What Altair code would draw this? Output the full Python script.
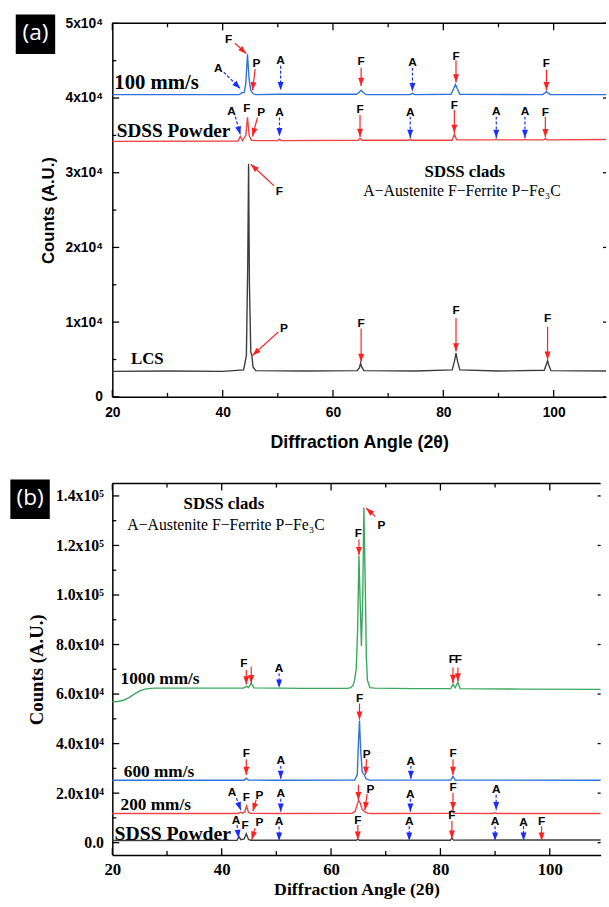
import math
import altair as alt
import pandas as pd

# ---------------- Panel (a) data ----------------
A_XDOM = [20, 109.5]
A_YDOM = [0, 50000]

a_lcs_x = [20, 30, 40, 43.8, 44.3, 44.55, 44.7, 44.85, 45.1, 45.3, 45.5, 46, 55, 64.4, 64.8, 65.0, 65.2, 65.6, 75,
           81.6, 82.0, 82.3, 82.6, 83.0, 90, 98.3, 98.7, 98.9, 99.1, 99.5, 109.5]
a_lcs_y = [3400, 3450, 3400, 3600, 5500, 18000, 31200, 15000, 6000, 5500, 4000, 3500, 3450, 3500, 3900, 4500, 4000,
           3500, 3450, 3600, 4700, 5850, 4700, 3600, 3450, 3550, 4400, 4850, 4300, 3500, 3450]

a_100_x = [20, 43.0, 43.5, 43.9, 44.2, 44.5, 44.8, 45.1, 45.5, 46, 50.5, 64.3, 64.8, 65.1, 65.4, 66.0, 74.0, 74.4,
           74.8, 81.4, 81.9, 82.2, 82.5, 83.0, 98.0, 98.5, 98.7, 98.9, 99.4, 109.5]
a_100_y = [40450, 40450, 40750, 40700, 42000, 45870, 42500, 41000, 40600, 40450, 40500, 40500, 40800, 41030, 40800,
           40450, 40450, 40630, 40450, 40500, 41300, 41820, 41300, 40500, 40450, 40700, 40900, 40700, 40450, 40450]

a_pow_x = [20, 42.8, 43.2, 43.6, 44.2, 44.5, 44.8, 45.2, 46, 50.0, 50.3, 50.6, 64.6, 64.9, 65.2, 73.7, 74.0, 74.3,
           81.6, 82.0, 82.4, 89.3, 89.6, 89.9, 94.5, 94.8, 95.1, 98.2, 98.5, 98.8, 109.5]
a_pow_y = [34200, 34250, 34870, 34300, 35000, 37430, 35000, 34350, 34300, 34300, 34500, 34300, 34350, 34600, 34350,
           34350, 34500, 34350, 34350, 35180, 34400, 34400, 34500, 34400, 34400, 34480, 34400, 34400, 34600, 34400,
           34450]

a_lab_txt = ["A", "F", "P", "A", "F", "A", "F", "F",
             "A", "F", "P", "A", "F", "A", "F", "A", "A", "F",
             "F", "P", "F", "F", "F"]
a_lab_x = [39.2, 41.1, 46.1, 50.5, 65.1, 74.4, 82.3, 98.7,
           41.6, 44.4, 47.0, 50.3, 64.9, 74.0, 82.0, 89.6, 94.8, 98.5,
           50.3, 51.1, 65.1, 82.3, 98.9]
a_lab_y = [43970, 47850, 44690, 45120, 44900, 44760, 45650, 44690,
           38260, 38620, 38090, 38090, 38490, 38170, 39050, 38260, 38260, 38170,
           27610, 9270, 9930, 11650, 10550]

a_red_x1 = [42.2, 45.9, 65.1, 82.3, 98.7, 46.3, 64.9, 82.0, 98.5, 49.3, 50.1, 65.1, 82.3, 98.9]
a_red_y1 = [47340, 43870, 44060, 45070, 43800, 37400, 37730, 38390, 37510, 28270, 8700, 9140, 10550, 9370]
a_red_x2 = [44.3, 45.4, 65.1, 82.3, 98.7, 45.4, 64.9, 82.0, 98.5, 45.1, 45.4, 65.1, 82.3, 98.9]
a_red_y2 = [45940, 41030, 41620, 42090, 41030, 34870, 34790, 35320, 34740, 31130, 5540, 4660, 6070, 4970]

a_blue_x1 = [40.2, 50.5, 74.4, 42.3, 50.3, 74.0, 89.6, 94.8]
a_blue_y1 = [43450, 44320, 44060, 37510, 37400, 37510, 37510, 37510]
a_blue_x2 = [43.2, 50.5, 74.4, 43.2, 50.3, 74.0, 89.6, 94.8]
a_blue_y2 = [41260, 41030, 40900, 35090, 34870, 34660, 34660, 34660]

a_name_txt = ["100 mm/s", "SDSS Powder", "LCS"]
a_name_x = [20.36, 20.8, 23.4]
a_name_y = [41950, 35530, 5100]
a_name_fs = [21, 19.5, 17]

a_info_x = [83.9, 83.4]
a_info_y = [30110, 27610]

# ---------------- Panel (b) data ----------------
B_XDOM = [20, 109.3]
B_YDOM = [-5000, 145000]

b_1000_x = [20, 21, 22, 23, 24, 25, 26, 27, 28, 35, 44.0, 44.5, 44.9, 45.4, 45.9, 55, 63.0, 63.6, 64.0, 64.3, 64.6,
            64.85, 65.1, 65.35, 65.55, 65.8, 66.0, 66.25, 66.45, 66.65, 67.1, 68.0, 75, 81.9, 82.3, 82.7, 83.2, 83.6,
            95, 109.3]
b_1000_y = [56900, 57000, 57500, 58500, 60000, 61300, 62000, 62300, 62400, 62400, 62400, 63100, 62600, 64400, 62500,
            62300, 62300, 62600, 63400, 65600, 70000, 85000, 115800, 95000, 79400, 100000, 135300, 105000, 75000,
            65600, 62600, 62400, 62200, 62200, 63900, 62600, 64800, 62200, 62000, 61900]

b_600_x = [20, 44.1, 44.5, 44.9, 50, 64.3, 64.8, 65.0, 65.2, 65.4, 65.7, 66.0, 66.4, 67, 81.9, 82.3, 82.7, 109.3]
b_600_y = [25200, 25200, 26000, 25250, 25200, 25300, 27500, 40000, 49300, 38000, 28500, 27700, 25800, 25250, 25250,
           26800, 25250, 25200]

b_200_x = [20, 43.0, 43.4, 43.8, 44.2, 44.55, 44.9, 45.3, 50, 63.8, 64.4, 64.8, 65.05, 65.3, 65.7, 66.2, 66.7, 67.3,
           81.7, 82.1, 82.5, 89.6, 90.0, 90.4, 109.3]
b_200_y = [11800, 11800, 12300, 11900, 12400, 14840, 12200, 11850, 11800, 11850, 12600, 15500, 17100, 16200, 13400,
           12400, 11900, 11800, 11850, 13120, 11850, 11800, 12100, 11800, 11800]

b_pow_x = [20, 42.8, 43.15, 43.5, 44.1, 44.5, 44.9, 45.3, 50, 64.6, 64.9, 65.2, 81.8, 82.1, 82.4, 109.3]
b_pow_y = [900, 950, 2400, 1200, 1500, 3580, 1300, 1000, 1000, 1000, 1400, 1000, 1000, 1900, 1050, 1100]

b_lab_txt = ["F", "A", "F", "F", "F", "P",
             "F", "A", "F", "P", "A", "F",
             "A", "F", "P", "A", "P", "A", "F", "A",
             "A", "F", "P", "A", "F", "A", "F", "A", "A", "F"]
b_lab_x = [44.05, 50.5, 82.2, 83.3, 65.0, 69.2,
           44.5, 50.8, 65.2, 66.5, 74.6, 82.3,
           41.9, 44.5, 46.9, 50.8, 67.2, 74.5, 82.3, 90.2,
           42.6, 44.3, 46.9, 50.5, 64.9, 74.3, 82.1, 90.0, 95.2, 98.5]
b_lab_y = [72400, 70500, 74070, 74070, 125100, 128400,
           36060, 33280, 58200, 35670, 33000, 36060,
           20360, 18370, 19320, 20100, 21700, 19700, 22350, 21470,
           9150, 7160, 8230, 8750, 9150, 8750, 11130, 8750, 8350, 8750]

b_red_x1 = [44.5, 45.4, 82.3, 83.2, 65.1, 68.1, 44.5, 65.2, 66.5, 82.3, 46.3, 65.0, 66.6, 82.3, 46.1, 64.9, 82.1, 98.5]
b_red_y1 = [69700, 71060, 70770, 70770, 122400, 131700, 33680, 56200, 33680, 33680, 17330, 23340, 19700, 20100,
            5840, 7160, 8750, 6650]
b_red_x2 = [44.5, 45.4, 82.3, 83.2, 65.1, 66.4, 44.5, 65.2, 66.3, 82.3, 45.7, 65.0, 66.2, 82.3, 45.5, 64.9, 82.1, 98.5]
b_red_y2 = [63900, 64400, 64410, 65090, 116000, 135100, 27310, 49600, 27310, 27310, 12720, 17100, 13100, 13100,
            1190, 1190, 1590, 800]

b_blue_x1 = [50.5, 50.8, 74.6, 42.7, 50.8, 74.5, 90.2, 42.8, 50.5, 74.3, 90.0, 95.2]
b_blue_y1 = [68390, 31000, 31000, 18000, 17700, 17700, 19360, 7160, 6480, 6650, 6650, 6650]
b_blue_x2 = [50.5, 50.8, 74.6, 43.5, 50.8, 74.5, 90.2, 43.1, 50.5, 74.3, 90.0, 95.2]
b_blue_y2 = [62540, 25700, 25700, 13100, 12450, 12450, 13120, 1860, 800, 800, 800, 800]

b_name_txt = ["1000 mm/s", "600 mm/s", "200 mm/s", "SDSS Powder"]
b_name_x = [21.5, 22.1, 21.5, 20.4]
b_name_y = [66100, 28600, 15100, 3460]
b_name_fs = [17.5, 17.5, 17.5, 20]

b_info_x = [40.4, 40.8]
b_info_y = [136700, 128400]

INFO_TITLE = "SDSS clads"
INFO_TEXT = "A\u2212Austenite F\u2212Ferrite P\u2212Fe\u2083C"

X_MAJOR = [20, 40, 60, 80, 100]
X_MINOR = [30, 50, 70, 90]
A_Y_MAJOR = [0, 10000, 20000, 30000, 40000, 50000]
A_Y_MINOR = [5000, 15000, 25000, 35000, 45000]
B_Y_MAJOR = [0, 20000, 40000, 60000, 80000, 100000, 120000, 140000]
B_Y_MINOR = [10000, 30000, 50000, 70000, 90000, 110000, 130000]

SERIES = ["LCS", "100 mm/s", "Powder a", "1000 mm/s", "600 mm/s", "200 mm/s", "Powder b"]
SERIES_COLORS = ["#3c3c3c", "#2f72da", "#ee4346", "#3aa85c", "#2f72da", "#ee4346", "#3c3c3c"]

RED_ARROW = "#ff2020"
BLUE_ARROW = "#1a2cff"
HEAD = "M0,0L-0.75,-2.1L0.75,-2.1Z"


def lines_df(pairs):
    frames = []
    for name, xs, ys in pairs:
        frames.append(pd.DataFrame({"x": xs, "y": ys, "s": name}))
    return pd.concat(frames, ignore_index=True)


def arrows_df(x1, y1, x2, y2, W, H, xd, yd):
    sx = W / (xd[1] - xd[0])
    sy = H / (yd[1] - yd[0])
    ang = []
    for a, b, c, d in zip(x1, y1, x2, y2):
        dx = (c - a) * sx
        dy = -(d - b) * sy
        ang.append(math.degrees(math.atan2(-dx, dy)) % 360)
    return pd.DataFrame({"x1": x1, "y1": y1, "x2": x2, "y2": y2, "ang": ang})


def panel(W, H, xd, yd, lines, labs, red, blue, names, info, xaxis, yaxis,
          ymaj, ymin, box, letter, info_bold_fs, info_fs):
    xs = alt.Scale(domain=xd, nice=False, zero=False)
    ys = alt.Scale(domain=yd, nice=False, zero=False)
    layers = []
    layers.append(alt.Chart(lines).mark_line(strokeWidth=1.4).encode(
        x=alt.X("x:Q", scale=xs, axis=xaxis),
        y=alt.Y("y:Q", scale=ys, axis=yaxis),
        color=alt.Color("s:N", scale=alt.Scale(domain=SERIES, range=SERIES_COLORS), legend=None),
        detail="s:N"))
    # frame top line
    layers.append(alt.Chart(pd.DataFrame({"k": [0]})).mark_rule(color="black", strokeWidth=1.5).encode(
        x=alt.value(0), x2=alt.value(W), y=alt.value(0)))
    # inward ticks
    for vals, ln in ((X_MAJOR, 7), (X_MINOR, 4)):
        d = pd.DataFrame({"t": vals})
        layers.append(alt.Chart(d).mark_rule(color="black", strokeWidth=1.3).encode(
            x=alt.X("t:Q"), y=alt.value(H), y2=alt.value(H - ln)))
        layers.append(alt.Chart(d).mark_rule(color="black", strokeWidth=1.3).encode(
            x=alt.X("t:Q"), y=alt.value(0), y2=alt.value(ln)))
    for vals, ln in ((ymaj, 7), (ymin, 4)):
        d = pd.DataFrame({"t": vals})
        layers.append(alt.Chart(d).mark_rule(color="black", strokeWidth=1.3).encode(
            y=alt.Y("t:Q"), x=alt.value(0), x2=alt.value(ln)))
    d = pd.DataFrame({"t": ymaj})
    layers.append(alt.Chart(d).mark_rule(color="black", strokeWidth=1.3).encode(
        y=alt.Y("t:Q"), x=alt.value(W - 3), x2=alt.value(W)))
    # arrows
    for df, col, dash in ((red, RED_ARROW, [1, 0]), (blue, BLUE_ARROW, [3, 2])):
        layers.append(alt.Chart(df).mark_rule(color=col, strokeWidth=1.2, strokeDash=dash).encode(
            x="x1:Q", y="y1:Q", x2="x2:Q", y2="y2:Q"))
        layers.append(alt.Chart(df).mark_point(shape=HEAD, filled=True, size=64, color=col, opacity=1,
                                               strokeWidth=0).encode(
            x="x2:Q", y="y2:Q", angle=alt.Angle("ang:Q", scale=None)))
    # peak letters
    layers.append(alt.Chart(labs).mark_text(font="Liberation Sans", fontWeight="bold", fontSize=12,
                                            color="black", baseline="middle").encode(
        x="x:Q", y="y:Q", text="t:N"))
    # series names
    layers.append(alt.Chart(names).mark_text(font="Liberation Serif", fontWeight="bold", color="black",
                                             align="left", baseline="middle").encode(
        x="x:Q", y="y:Q", text="t:N", size=alt.Size("fs:Q", scale=None)))
    # info box
    layers.append(alt.Chart(info.iloc[[0]]).mark_text(font="Liberation Serif", fontWeight="bold",
                                                      fontSize=info_bold_fs, color="black",
                                                      baseline="middle").encode(
        x="x:Q", y="y:Q", text="t:N"))
    layers.append(alt.Chart(info.iloc[[1]]).mark_text(font="Liberation Serif", fontSize=info_fs,
                                                      color="black", baseline="middle").encode(
        x="x:Q", y="y:Q", text="t:N"))
    # panel letter box
    bx1, by1 = box
    layers.append(alt.Chart(pd.DataFrame({"k": [0]})).mark_rect(color="black").encode(
        x=alt.value(bx1), x2=alt.value(bx1 + 40), y=alt.value(by1), y2=alt.value(by1 + 40)))
    layers.append(alt.Chart(pd.DataFrame({"k": [0]})).mark_text(
        color="white", fontSize=23, font="Open Sans", baseline="middle", text=letter).encode(
        x=alt.value(bx1 + 20), y=alt.value(by1 + 19)))
    return alt.layer(*layers).properties(width=W, height=H)


def make_axis_x(font, size, tsize, lpad, tpad):
    return alt.Axis(values=X_MAJOR, ticks=False, tickSize=0, grid=False, domainColor="black", domainWidth=1.5,
                    labelFont=font, labelFontWeight="bold", labelFontSize=size, labelColor="black",
                    labelPadding=lpad, labelFlush=False, title="Diffraction Angle (2\u03b8)", titleFont=font,
                    titleFontWeight="bold", titleFontSize=tsize, titleColor="black", titlePadding=tpad)


def make_axis_y(vals, expr, font, size, tsize, lpad, tpad):
    return alt.Axis(values=vals, labelExpr=expr, ticks=False, tickSize=0, grid=False, domainColor="black",
                    domainWidth=1.5, labelFont=font, labelFontWeight="bold", labelFontSize=size,
                    labelColor="black", labelPadding=lpad, labelFlush=False, labelOverlap=False,
                    title="Counts (A.U.)", titleFont=font, titleFontWeight="bold", titleFontSize=tsize,
                    titleColor="black", titlePadding=tpad)


WA, HA = 501, 379
WB, HB = 495.5, 377

a_lines = lines_df([("LCS", a_lcs_x, a_lcs_y), ("100 mm/s", a_100_x, a_100_y), ("Powder a", a_pow_x, a_pow_y)])
a_labs = pd.DataFrame({"t": a_lab_txt, "x": a_lab_x, "y": a_lab_y})
a_red = arrows_df(a_red_x1, a_red_y1, a_red_x2, a_red_y2, WA, HA, A_XDOM, A_YDOM)
a_blue = arrows_df(a_blue_x1, a_blue_y1, a_blue_x2, a_blue_y2, WA, HA, A_XDOM, A_YDOM)
a_names = pd.DataFrame({"t": a_name_txt, "x": a_name_x, "y": a_name_y, "fs": a_name_fs})
a_info = pd.DataFrame({"t": [INFO_TITLE, INFO_TEXT], "x": a_info_x, "y": a_info_y})

b_lines = lines_df([("1000 mm/s", b_1000_x, b_1000_y), ("600 mm/s", b_600_x, b_600_y),
                    ("200 mm/s", b_200_x, b_200_y), ("Powder b", b_pow_x, b_pow_y)])
b_labs = pd.DataFrame({"t": b_lab_txt, "x": b_lab_x, "y": b_lab_y})
b_red = arrows_df(b_red_x1, b_red_y1, b_red_x2, b_red_y2, WB, HB, B_XDOM, B_YDOM)
b_blue = arrows_df(b_blue_x1, b_blue_y1, b_blue_x2, b_blue_y2, WB, HB, B_XDOM, B_YDOM)
b_names = pd.DataFrame({"t": b_name_txt, "x": b_name_x, "y": b_name_y, "fs": b_name_fs})
b_info = pd.DataFrame({"t": [INFO_TITLE, INFO_TEXT], "x": b_info_x, "y": b_info_y})

expr_a = "datum.value == 0 ? '0' : (datum.value / 10000) + 'x10\u2074'"
expr_b = ("datum.value == 0 ? '0.0' : (datum.value >= 100000 ? format(datum.value / 100000, '.1f') + 'x10\u2075'"
          " : format(datum.value / 10000, '.1f') + 'x10\u2074')")

pa = panel(WA, HA, A_XDOM, A_YDOM, a_lines, a_labs, a_red, a_blue, a_names, a_info,
           make_axis_x("Liberation Sans", 14, 18, 9, 14),
           make_axis_y(A_Y_MAJOR, expr_a, "Liberation Sans", 14, 17, 10, 8),
           A_Y_MAJOR, A_Y_MINOR, (-98, -9), "(a)", 17, 16)

pb = panel(WB, HB, B_XDOM, B_YDOM, b_lines, b_labs, b_red, b_blue, b_names, b_info,
           make_axis_x("Liberation Serif", 17, 18, 7, 3),
           make_axis_y(B_Y_MAJOR, expr_b, "Liberation Serif", 16, 19, 9, 9),
           B_Y_MAJOR, B_Y_MINOR, (-103.5, -4), "(b)", 17, 16)

chart = alt.vconcat(pa, pb, spacing=29).properties(
    padding={"left": 10, "top": 8, "right": 0, "bottom": 0}
).configure_view(stroke=None)

chart.save("out.html", embed_options={"renderer": "svg", "actions": False})
